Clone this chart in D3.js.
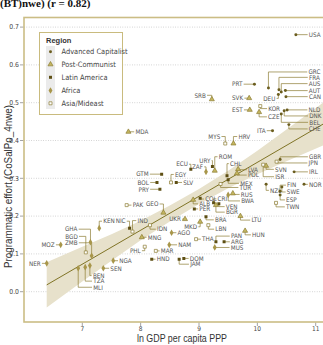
<!DOCTYPE html>
<html><head><meta charset="utf-8">
<script src="https://cdn.jsdelivr.net/npm/d3@7"></script>
<style>body{margin:0;background:#fff}svg{display:block}</style>
</head><body>
<svg id="c" width="323" height="345"></svg>
<script>
// ---------------- data ----------------
const regionNames = ["Advanced Capitalist","Post-Communist","Latin America","Africa","Asia/Mideast"];
const codes = ["USA","PRT","GRC","FRA","AUS","AUT","CAN","DEU","SRB","SVK","EST","KOR","CZE","NLD","DNK","BEL","CHE","ITA","MYS","HRV","GBR","JPN","IRL","SVN","ISR","NOR","FIN","NZL","SWE","ESP","TWN","ROM","URY","ZAF","ECU","CHL","MEX","TUR","LVA","POL","RUS","BWA","COL","CRI","ALB","PER","VEN","BGR","GEO","PAK","GTM","BOL","PRY","EGY","SLV","MDA","NIC","IND","IDN","UKR","MKD","BRA","LBN","AGO","MNG","THA","PAN","ARG","MUS","NAM","PHL","MAR","HND","DOM","JAM","LTU","HUN","KEN","GHA","BGD","ZMB","MOZ","NER","NGA","SEN","BEN","TZA","MLI"];
const region = [0,0,0,0,0,0,0,0,1,1,1,4,1,0,0,0,0,0,4,1,0,4,0,1,4,0,0,0,0,0,4,1,2,3,2,2,2,4,1,1,1,3,2,2,1,2,2,1,1,4,2,2,2,4,2,1,2,4,4,1,1,2,4,3,1,4,2,2,3,3,4,4,2,2,2,1,1,3,3,4,3,3,3,3,3,3,3,3];
const lnGdp = [10.66,9.95,10.19,10.37,10.41,10.48,10.49,10.36,9.22,9.86,9.87,10.05,10.03,10.51,10.46,10.41,10.54,10.26,9.45,9.59,10.39,10.33,10.63,10.15,10.10,10.80,10.39,10.15,10.42,10.39,10.32,9.27,9.23,9.12,8.86,9.48,9.50,9.37,9.67,9.65,9.58,9.50,9.02,9.25,8.90,8.92,9.34,9.29,8.39,7.76,8.36,8.28,8.33,8.52,8.61,7.79,7.81,7.86,8.16,8.76,9.02,9.12,9.16,8.53,8.02,8.95,9.29,9.43,9.27,8.49,8.07,8.26,8.19,8.74,8.66,9.71,9.79,7.29,7.14,7.06,7.16,6.63,6.39,7.53,7.36,7.13,7.05,6.93];
const effort = [0.680,0.549,0.539,0.534,0.528,0.532,0.516,0.522,0.509,0.512,0.481,0.491,0.475,0.481,0.479,0.470,0.442,0.426,0.392,0.392,0.350,0.344,0.317,0.333,0.336,0.284,0.266,0.284,0.277,0.256,0.235,0.320,0.331,0.317,0.324,0.307,0.296,0.285,0.324,0.313,0.260,0.256,0.247,0.235,0.243,0.219,0.233,0.229,0.209,0.229,0.311,0.289,0.271,0.289,0.289,0.423,0.168,0.159,0.176,0.192,0.185,0.198,0.176,0.156,0.144,0.139,0.132,0.132,0.117,0.124,0.119,0.108,0.086,0.088,0.086,0.200,0.161,0.168,0.131,0.104,0.095,0.124,0.075,0.082,0.062,0.069,0.065,0.062];
const yTicks = [0.0,0.1,0.2,0.3,0.4,0.5,0.6,0.7];
const yTickLabels = ["0.0","0.1","0.2","0.3","0.4","0.5","0.6","0.7"];
const xTicks = [7,8,9,10,11];
const fitX = [6.39, 11.2];
const fitY = [0.018, 0.450];
const bandX  = [6.39, 7, 7.5, 8, 8.5, 9, 9.5, 10, 10.5, 11.2];
const bandLo = [-0.042,0.027,0.082,0.136,0.186,0.232,0.274,0.311,0.345,0.392];
const bandHi = [0.078,0.119,0.152,0.188,0.228,0.272,0.320,0.373,0.429,0.508];
const titleText = "(BT)nwe) (r = 0.82)";
const xTitle = "ln GDP per capita PPP";
const yTitle = "Programmatic effort (CoSalPo_4nwe)";

// ---------------- label layout (pixel offsets, not data) ----------------
const lay = {
USA:[13,0,"s"],PRT:[-12,0,"e"],GRC:[40,-16,"s"],FRA:[30,-12.5,"s"],AUS:[27.5,-8.5,"s"],AUT:[23.5,0,"s"],CAN:[23,0,"s"],DEU:[-3,4,"e"],
SRB:[-6,-4,"e"],SVK:[-6,0,"e"],EST:[-7,0,"e"],KOR:[8,2.5,"s"],CZE:[9,4.7,"s"],NLD:[21.5,0,"s"],DNK:[25,5.3,"s"],BEL:[28,8.3,"s"],CHE:[20,4.3,"s"],ITA:[-7,0,"e"],
MYS:[-5,-7,"e"],HRV:[5,-7,"s"],GBR:[29,-2.6,"s"],JPN:[32,1.3,"s"],IRL:[15,0,"s"],SVN:[9,3.5,"s"],ISR:[12,12,"s"],NOR:[5,0,"s"],FIN:[7,-6,"s"],NZL:[4,6,"s"],SWE:[5,5,"s"],ESP:[6,5,"s"],TWN:[10,4,"s"],
ROM:[4,-14,"s"],URY:[-2,-6,"e"],ZAF:[-3,-5,"e"],ECU:[-3,-5,"e"],CHL:[3,-12,"s"],MEX:[12,3.5,"s"],TUR:[19,3.5,"s"],LVA:[10,0.5,"s"],POL:[11,1.7,"s"],RUS:[8,1,"s"],BWA:[13,6,"s"],
COL:[5,0.7,"s"],CRI:[4,-4,"s"],ALB:[6,4,"s"],PER:[5,0,"s"],VEN:[7,3,"s"],BGR:[10,7,"s"],GEO:[-5,-8.7,"e"],PAK:[6,0,"s"],GTM:[-13,0,"e"],BOL:[-8,0,"e"],PRY:[-11,0,"e"],EGY:[4,-8,"s"],SLV:[7,0,"s"],MDA:[7,0,"s"],
NIC:[-4,-7,"e"],IND:[5,-11,"s"],IDN:[7,4,"s"],UKR:[-4,0,"e"],MKD:[-3,5,"e"],BRA:[9,3,"s"],LBN:[7,4,"s"],AGO:[6,0,"s"],MNG:[6,0,"s"],THA:[6,0,"s"],PAN:[15,-5.7,"s"],ARG:[7,0,"s"],MUS:[16,0,"s"],NAM:[9,0,"s"],
PHL:[-4,4,"e"],MAR:[5,0,"s"],HND:[5,0,"s"],DOM:[6,0,"s"],JAM:[11,5,"s"],LTU:[11,4,"s"],HUN:[7,4,"s"],KEN:[4,-7,"s"],GHA:[-13,-13,"e"],BGD:[-8,-16,"e"],ZMB:[-14,-13,"e"],MOZ:[-6,0,"e"],NER:[-6,0,"e"],
NGA:[6,0,"s"],SEN:[7,0,"s"],BEN:[3,10,"s"],TZA:[8,14,"s"],MLI:[15,19,"s"]
};

// ---------------- drawing ----------------
const svg = d3.select("#c");
const W = 323, H = 345;
const frame = {l:24, t:17.5, r:340, b:322};
const x = d3.scaleLinear().domain([7,11]).range([82.3,315.7]);
const y = d3.scaleLinear().domain([0,0.7]).range([291.7,27.1]);

const olive = "#8c7d34";
const fonts = "'Liberation Sans Narrow','DejaVu Sans Condensed','Liberation Sans',sans-serif";

svg.append("rect").attr("width",W).attr("height",H).attr("fill","#fff");

// title (cropped at top)
svg.append("text").attr("x",0).attr("y",6.5).attr("font-family","'Liberation Serif',serif")
  .attr("font-weight","bold").attr("font-size",11).attr("fill","#111").text(titleText);

svg.append("clipPath").attr("id","pc").append("rect")
  .attr("x",frame.l).attr("y",frame.t).attr("width",frame.r-frame.l).attr("height",frame.b-frame.t);
const plot = svg.append("g").attr("clip-path","url(#pc)");

// gridlines
plot.selectAll("line.grid").data(yTicks).join("line").attr("class","grid")
  .attr("x1",frame.l).attr("x2",frame.r).attr("y1",d=>y(d)).attr("y2",d=>y(d))
  .attr("stroke","#b5b5b5").attr("stroke-width",0.7).attr("stroke-dasharray","0.8,1.6");

// confidence band
const bandData = bandX.map((v,i)=>({x:v,lo:bandLo[i],hi:bandHi[i]}));
plot.append("path").datum(bandData)
  .attr("d", d3.area().x(d=>x(d.x)).y0(d=>y(d.lo)).y1(d=>y(d.hi)))
  .attr("fill","#e7e1cb");
// fit line
plot.append("path").datum(fitX.map((v,i)=>[v,fitY[i]]))
  .attr("d", d3.line().x(d=>x(d[0])).y(d=>y(d[1])))
  .attr("stroke","#7f7325").attr("stroke-width",1).attr("fill","none");

const pts = codes.map((c,i)=>({c, r:region[i], px:x(lnGdp[i]), py:y(effort[i])}));

// leaders
const gl = plot.append("g");
pts.forEach(p=>{
  const L = lay[p.c]; if(!L) return;
  const lx = p.px+L[0], ly = p.py+L[1];
  const endX = L[2]==="s" ? lx-1.2 : lx+1.2;
  gl.append("path").attr("d",`M${p.px},${p.py}V${ly}H${endX}`)
    .attr("fill","none").attr("stroke",olive).attr("stroke-width",0.7);
});

// markers
const sym = [
  {type:d3.symbolCircle,size:7,fill:"#6b5d1e",stroke:"none"},
  {type:d3.symbolTriangle,size:11,fill:"#c4b660",stroke:"#8c7d34"},
  {type:d3.symbolSquare,size:9,fill:"#5e4f14",stroke:"none"},
  {type:d3.symbolDiamond,size:13,fill:"#a8964a",stroke:"none"},
  {type:d3.symbolSquare,size:9,fill:"#fff",stroke:"#8c7d34"}
];
function drawSym(g,r,px,py){
  const s = sym[r];
  g.append("path").attr("d",d3.symbol().type(s.type).size(s.size)())
    .attr("transform",`translate(${px},${py})`)
    .attr("fill",s.fill).attr("stroke",s.stroke).attr("stroke-width",0.7);
}
const gm = plot.append("g");
pts.forEach(p=>drawSym(gm,p.r,p.px,p.py));

// labels
const gt = plot.append("g").attr("font-family",fonts).attr("font-size",6.3).attr("fill","#555");
pts.forEach(p=>{
  const L = lay[p.c]; if(!L) return;
  gt.append("text").attr("x",p.px+L[0]).attr("y",p.py+L[1]).attr("dy","0.36em")
    .attr("text-anchor",L[2]==="s"?"start":"end").text(p.c);
});

// legend
const lg = svg.append("g");
lg.append("rect").attr("x",39.5).attr("y",32.5).attr("width",83).attr("height",82)
  .attr("fill","#fff").attr("stroke","#c9bb7e").attr("stroke-width",1);
lg.append("rect").attr("x",46).attr("y",46).attr("width",9).attr("height",63).attr("fill","#ebebeb");
lg.append("text").attr("x",46).attr("y",43).attr("font-family","'Liberation Sans',sans-serif")
  .attr("font-weight","bold").attr("font-size",7.5).attr("fill","#333").text("Region");
const legY = [51.7,64.4,77.3,90.5,103.3];
regionNames.forEach((n,i)=>{
  drawSym(lg,i,50.5,legY[i]);
  lg.append("text").attr("x",61.5).attr("y",legY[i]).attr("dy","0.36em")
    .attr("font-family",fonts).attr("font-size",7.4).attr("fill","#444").text(n);
});

// frame
svg.append("rect").attr("x",frame.l).attr("y",frame.t).attr("width",frame.r-frame.l).attr("height",frame.b-frame.t)
  .attr("fill","none").attr("stroke","#cbbd85").attr("stroke-width",1.6);

// y axis ticks
const ya = svg.append("g").attr("font-family",fonts).attr("font-size",6.8).attr("fill","#444");
yTicks.forEach((t,i)=>{
  ya.append("line").attr("x1",20).attr("x2",frame.l-0.8).attr("y1",y(t)).attr("y2",y(t)).attr("stroke","#666").attr("stroke-width",0.6);
  ya.append("text").attr("x",19).attr("y",y(t)).attr("dy","0.35em").attr("text-anchor","end").text(yTickLabels[i]);
});
// x axis ticks
const xa = svg.append("g").attr("font-family",fonts).attr("font-size",6.5).attr("fill","#444");
xTicks.forEach(t=>{
  xa.append("line").attr("x1",x(t)).attr("x2",x(t)).attr("y1",frame.b+0.8).attr("y2",frame.b+4).attr("stroke","#666").attr("stroke-width",0.6);
  xa.append("text").attr("x",x(t)).attr("y",331).attr("text-anchor","middle").text(t);
});

// axis titles
svg.append("text").attr("x",137).attr("y",342).attr("font-family","'Liberation Sans',sans-serif")
  .attr("font-size",10).attr("fill","#333").attr("textLength",90).attr("lengthAdjust","spacingAndGlyphs").text(xTitle);
svg.append("text").attr("transform","translate(11.5,268) rotate(-90)").attr("font-family","'Liberation Sans',sans-serif")
  .attr("font-size",10.5).attr("fill","#333").attr("textLength",163).attr("lengthAdjust","spacingAndGlyphs").text(yTitle);
</script>
</body></html>
